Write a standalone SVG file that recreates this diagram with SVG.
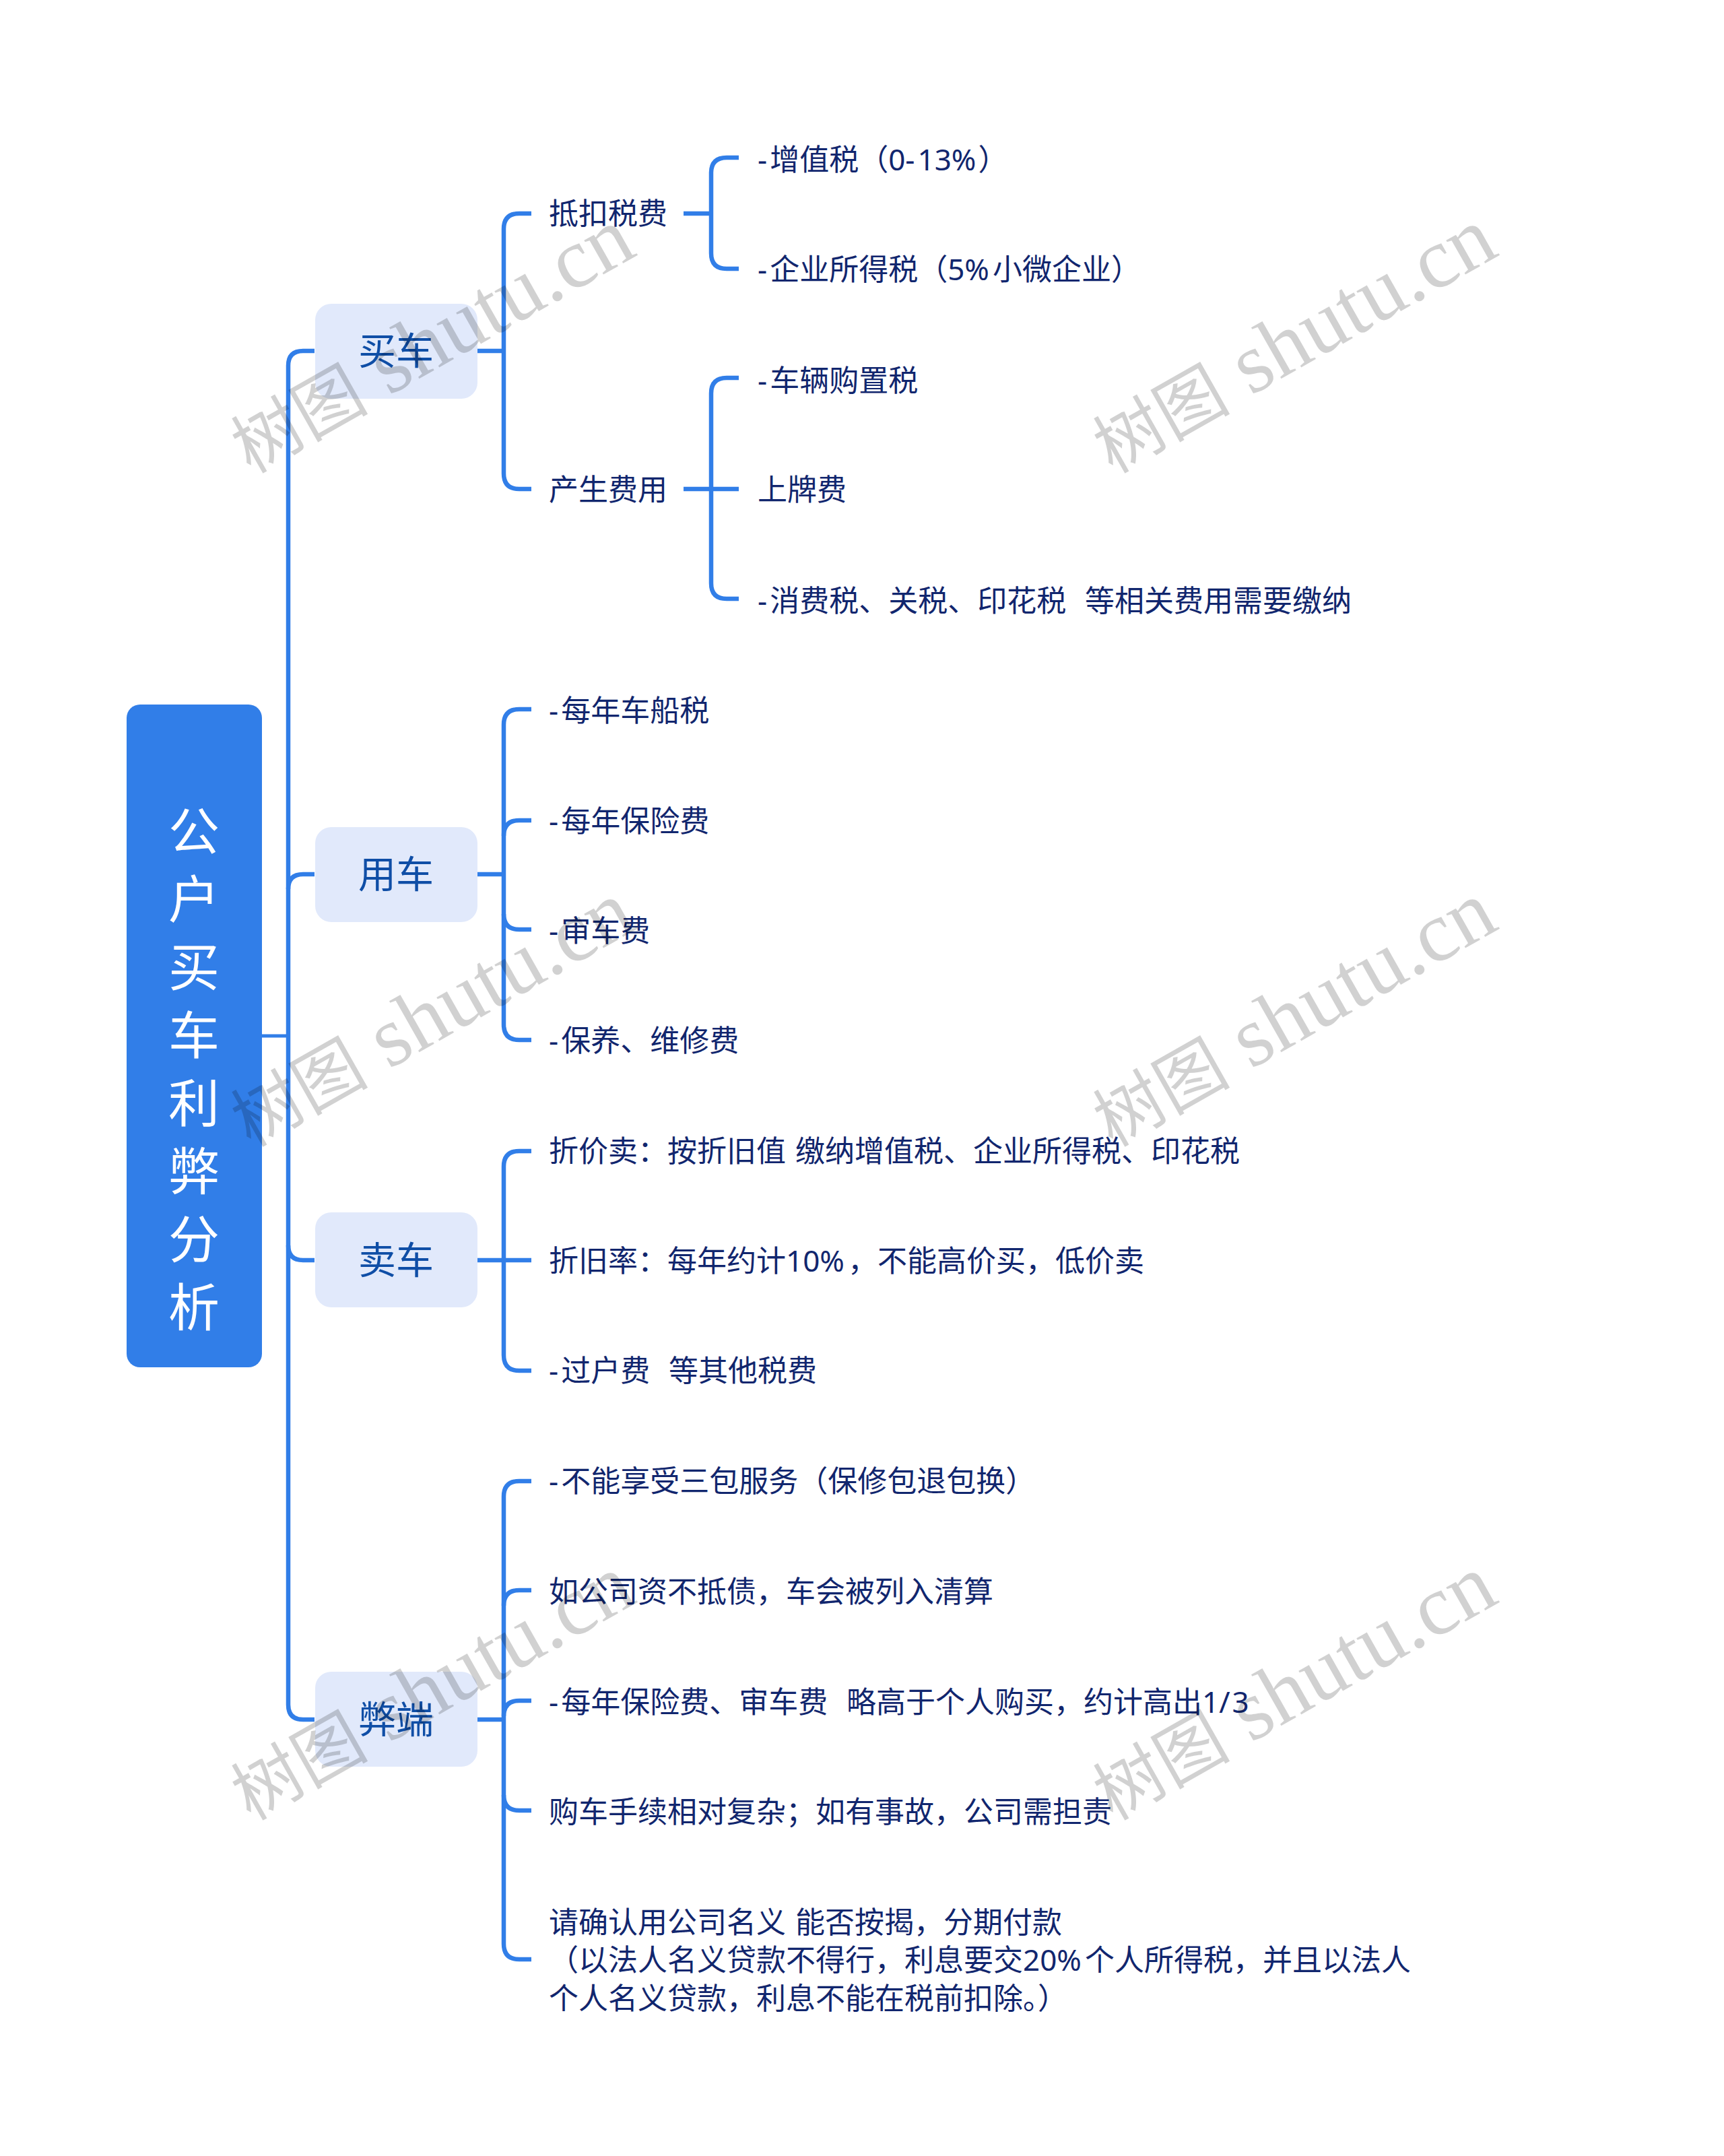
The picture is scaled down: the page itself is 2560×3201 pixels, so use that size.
<svg xmlns="http://www.w3.org/2000/svg" width="2560" height="3201" viewBox="0 0 2560 3201">
<style>
text{font-family:"Noto Sans","Noto Sans CJK SC",sans-serif}
.c{fill:none;stroke:#317ee8;stroke-width:6.5}
.sub{fill:#e1e9fb}
.st{font-size:56px;fill:#0f4ea6;text-anchor:middle}
.l{font-size:44px;fill:#11266e;white-space:pre;word-spacing:2.5px}
.r{font-size:76px;fill:#fff;text-anchor:middle}
.w{font-family:"Liberation Serif","Noto Sans CJK SC",serif;font-size:127px;fill:#000;fill-opacity:.18}
.wc{font-family:"Noto Sans CJK SC",serif;font-size:102px}
</style>
<rect width="2560" height="3201" fill="#fff"/>
<g id="connectors">
<path class="c" style="stroke-width:5" d="M389 1538H428"/>
<path class="c" d="M467 521H450Q428 521 428 543V2531Q428 2553 450 2553H467"/>
<path class="c" d="M467 1298H450Q428 1298 428 1320"/>
<path class="c" d="M467 1871H450Q428 1871 428 1849"/>
<path class="c" d="M709 521H748"/>
<path class="c" d="M789 317H771Q748 317 748 340V703Q748 726 771 726H789"/>
<path class="c" d="M1015 317H1056"/>
<path class="c" d="M1097 234H1079Q1056 234 1056 257V376Q1056 399 1079 399H1097"/>
<path class="c" d="M1015 726H1097"/>
<path class="c" d="M1097 561H1079Q1056 561 1056 584V866Q1056 889 1079 889H1097"/>
<path class="c" d="M709 1298H748"/>
<path class="c" d="M789 1053H771Q748 1053 748 1076V1521Q748 1544 771 1544H789"/>
<path class="c" d="M789 1218H771Q748 1218 748 1241"/>
<path class="c" d="M789 1380H771Q748 1380 748 1357"/>
<path class="c" d="M709 1871H789"/>
<path class="c" d="M789 1709H771Q748 1709 748 1732V2012Q748 2035 771 2035H789"/>
<path class="c" d="M709 2553H748"/>
<path class="c" d="M789 2199H771Q748 2199 748 2222V2886Q748 2909 771 2909H789"/>
<path class="c" d="M789 2361H771Q748 2361 748 2384"/>
<path class="c" d="M789 2525H771Q748 2525 748 2548"/>
<path class="c" d="M789 2688H771Q748 2688 748 2665"/>
</g>
<g id="root">
<rect x="188" y="1046" width="201" height="984" rx="20" fill="#317ee8"/>
<text class="r" x="288" y="1262">公</text>
<text class="r" x="288" y="1363">户</text>
<text class="r" x="288" y="1464">买</text>
<text class="r" x="288" y="1565">车</text>
<text class="r" x="288" y="1666">利</text>
<text class="r" x="288" y="1767">弊</text>
<text class="r" x="288" y="1868">分</text>
<text class="r" x="288" y="1969">析</text>
</g>
<g id="buy"><rect class="sub" x="468" y="451" width="241" height="141" rx="24"/><text class="st" x="588" y="541">买车</text></g>
<g id="use"><rect class="sub" x="468" y="1228" width="241" height="141" rx="24"/><text class="st" x="588" y="1318">用车</text></g>
<g id="sell"><rect class="sub" x="468" y="1800" width="241" height="141" rx="24"/><text class="st" x="588" y="1891">卖车</text></g>
<g id="cons"><rect class="sub" x="468" y="2482" width="241" height="141" rx="24"/><text class="st" x="588" y="2573">弊端</text></g>
<g id="n1"><text class="l" x="815" y="333">抵扣税费</text></g>
<g id="n2"><text class="l" x="815" y="743">产生费用</text></g>
<g id="n11"><text class="l" x="1125" y="253">-<tspan dx="4">增值税（0-</tspan><tspan dx="4">13%</tspan><tspan dx="3">）</tspan></text></g>
<g id="n12"><text class="l" x="1125" y="416">-<tspan dx="4">企业所得税（5%</tspan><tspan dx="5">小微企业）</tspan></text></g>
<g id="n21"><text class="l" x="1125" y="581">-<tspan dx="4">车辆购置税</tspan></text></g>
<g id="n22"><text class="l" x="1125" y="743">上牌费</text></g>
<g id="n23"><text class="l" x="1125" y="908">-<tspan dx="4">消费税、关税、印花税  等相关费用需要缴纳</tspan></text></g>
<g id="u1"><text class="l" x="815" y="1071">-<tspan dx="4">每年车船税</tspan></text></g>
<g id="u2"><text class="l" x="815" y="1235">-<tspan dx="4">每年保险费</tspan></text></g>
<g id="u3"><text class="l" x="815" y="1398">-<tspan dx="4">审车费</tspan></text></g>
<g id="u4"><text class="l" x="815" y="1561">-<tspan dx="4">保养、维修费</tspan></text></g>
<g id="s1"><text class="l" x="815" y="1725">折价卖：按折旧值 缴纳增值税、企业所得税、印花税</text></g>
<g id="s2"><text class="l" x="815" y="1888">折旧率：每年约计10%<tspan dx="5">，不能高价买，低价卖</tspan></text></g>
<g id="s3"><text class="l" x="815" y="2051">-<tspan dx="4">过户费  等其他税费</tspan></text></g>
<g id="c1"><text class="l" x="815" y="2215">-<tspan dx="4">不能享受三包服务（保修包退包换）</tspan></text></g>
<g id="c2"><text class="l" x="815" y="2379">如公司资不抵债，车会被列入清算</text></g>
<g id="c3"><text class="l" x="815" y="2543">-<tspan dx="4">每年保险费、审车费  略高于个人购买，约计高出1/</tspan><tspan dx="3">3</tspan></text></g>
<g id="c4"><text class="l" x="815" y="2706">购车手续相对复杂；如有事故，公司需担责</text></g>
<g id="c5"><text class="l" x="815" y="2870">请确认用公司名义 能否按揭，分期付款</text><text class="l" x="815" y="2926">（以法人名义贷款不得行，利息要交20%<tspan dx="5">个人所得税，并且以法人</tspan></text><text class="l" x="815" y="2983">个人名义贷款，利息不能在税前扣除。）</text></g>
<g id="watermark">
<text class="w" transform="translate(372 704) rotate(-29.5)"><tspan class="wc">树图</tspan> shutu.cn</text>
<text class="w" transform="translate(1652 704) rotate(-29.5)"><tspan class="wc">树图</tspan> shutu.cn</text>
<text class="w" transform="translate(372 1704) rotate(-29.5)"><tspan class="wc">树图</tspan> shutu.cn</text>
<text class="w" transform="translate(1652 1704) rotate(-29.5)"><tspan class="wc">树图</tspan> shutu.cn</text>
<text class="w" transform="translate(372 2704) rotate(-29.5)"><tspan class="wc">树图</tspan> shutu.cn</text>
<text class="w" transform="translate(1652 2704) rotate(-29.5)"><tspan class="wc">树图</tspan> shutu.cn</text>
</g>
</svg>
